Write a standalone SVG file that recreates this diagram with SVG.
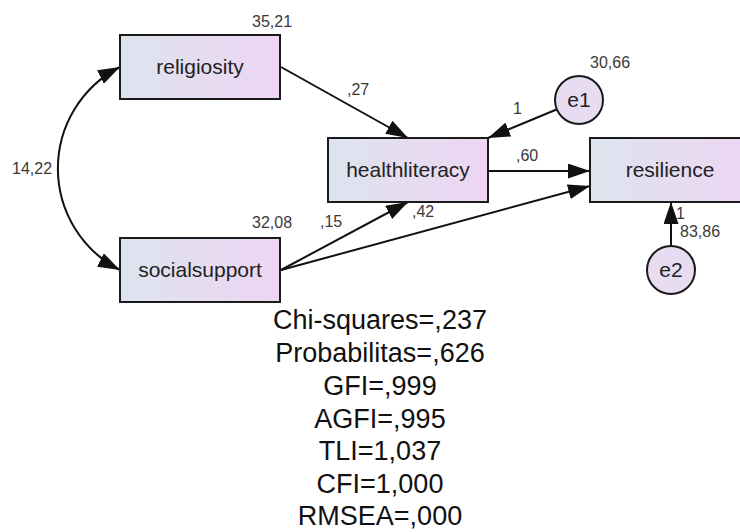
<svg xmlns="http://www.w3.org/2000/svg" width="740" height="532" viewBox="0 0 740 532">
<style>
.box{stroke:#1a1a1a;stroke-width:2;fill:url(#g)}
.circ{stroke:#1a1a1a;stroke-width:2;fill:#e7dcf1}
.lbl{font-family:"Liberation Sans",Arial,sans-serif;font-size:21px;fill:#222;text-anchor:middle}
.sm{font-family:"Liberation Sans",Arial,sans-serif;font-size:16px;fill:#3a3a3a}
.fit{font-family:"Liberation Sans",Arial,sans-serif;font-size:27px;fill:#111;text-anchor:middle}
.ln{stroke:#111;stroke-width:2;fill:none;marker-end:url(#ah)}
</style>
<defs>
<linearGradient id="g" x1="0" y1="0" x2="1" y2="0">
<stop offset="0" stop-color="#dde4ee"/>
<stop offset="1" stop-color="#eed5f3"/>
</linearGradient>
<marker id="ah" viewBox="0 0 22 15" refX="22" refY="7.5" markerWidth="22" markerHeight="15" orient="auto-start-reverse" markerUnits="userSpaceOnUse">
<path d="M0,0 L22,7.5 L0,15 z" fill="#111"/>
</marker>
</defs>
<g id="connectors">
<path class="ln" d="M281,67 L408,138"/>
<path class="ln" d="M556.5,109.5 L488,138"/>
<path class="ln" d="M488,171 L590,171"/>
<path class="ln" d="M281,270 L408,202"/>
<path class="ln" d="M281,270 L590,186"/>
<path class="ln" d="M671,245.5 L671,202"/>
<path class="ln" style="marker-start:url(#ah)" d="M120,67 A114,114 0 0 0 120,270"/>
</g>
<g id="religiosity">
<rect class="box" x="120" y="35" width="160" height="64"/>
<text class="lbl" x="200" y="74">religiosity</text>
<text class="sm" x="252" y="27">35,21</text>
</g>
<g id="socialsupport">
<rect class="box" x="120" y="238" width="160" height="64"/>
<text class="lbl" x="200" y="277">socialsupport</text>
<text class="sm" x="252" y="228">32,08</text>
</g>
<g id="healthliteracy">
<rect class="box" x="328" y="138" width="160" height="64"/>
<text class="lbl" x="408" y="177">healthliteracy</text>
</g>
<g id="resilience">
<rect class="box" x="590" y="138" width="160" height="64"/>
<text class="lbl" x="670" y="177">resilience</text>
</g>
<g id="e1">
<circle class="circ" cx="579" cy="100" r="24"/>
<text class="lbl" x="579" y="107">e1</text>
<text class="sm" x="590" y="68">30,66</text>
</g>
<g id="e2">
<circle class="circ" cx="671" cy="270" r="24"/>
<text class="lbl" x="671" y="277">e2</text>
<text class="sm" x="680" y="237">83,86</text>
</g>
<g id="path-labels">
<text class="sm" x="347" y="95">,27</text>
<text class="sm" x="513" y="114">1</text>
<text class="sm" x="516" y="161">,60</text>
<text class="sm" x="320" y="227">,15</text>
<text class="sm" x="412" y="217">,42</text>
<text class="sm" x="12" y="174">14,22</text>
<text class="sm" x="676" y="219">1</text>
</g>
<g id="fit">
<text class="fit" x="380" y="329">Chi-squares=,237</text>
<text class="fit" x="380" y="362">Probabilitas=,626</text>
<text class="fit" x="380" y="395">GFI=,999</text>
<text class="fit" x="380" y="428">AGFI=,995</text>
<text class="fit" x="380" y="460">TLI=1,037</text>
<text class="fit" x="380" y="493">CFI=1,000</text>
<text class="fit" x="380" y="525">RMSEA=,000</text>
</g>
</svg>
